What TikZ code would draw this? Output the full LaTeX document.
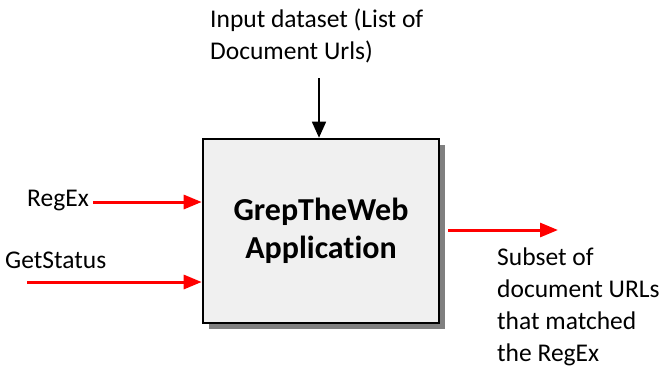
\documentclass[tikz,border=0pt]{standalone}
\usepackage{fontspec}
\setmainfont[Ligatures=NoCommon]{Carlito}
\usetikzlibrary{arrows.meta,shadows}
\begin{document}
\begin{tikzpicture}[x=1pt,y=-1pt,
  label/.style={inner sep=0pt,anchor=base west,font=\fontsize{25.5}{32}\selectfont},
  feed/.style={red,line width=3pt,-{Triangle[length=18pt,width=14pt]}},
  inflow/.style={black,line width=1.6pt,-{Triangle[length=16pt,width=14pt]}},
  appbox/.style={draw=black,line width=2.6pt,fill=black!6,minimum width=236pt,minimum height=184pt,
    inner sep=0pt,align=center,font=\fontsize{32}{38}\selectfont\bfseries,
    drop shadow={shadow xshift=6pt,shadow yshift=-6pt,fill=black!50,opacity=1}}]
  \useasboundingbox (0,0) rectangle (669,376);

  % main application block
  \node[appbox] (app) at (321,231) {GrepTheWeb\\Application};

  % input dataset from above
  \node[label] (inl1) at (210,27) {Input dataset (List of};
  \node[label] (inl2) at (210,59) {Document Urls)};
  \coordinate (intop) at (319,78);
  \draw[inflow] (intop) -- (app.north -| intop);

  % parameters on the left
  \node[label] (regex) at (27,206) {RegEx};
  \coordinate (rx) at (93,202);
  \draw[feed] (rx) -- (app.west |- rx);

  \node[label] (getstatus) at (5,268) {GetStatus};
  \coordinate (gs) at (27,282);
  \draw[feed] (gs) -- (app.west |- gs);

  % output on the right
  \coordinate (outs) at (448,230);
  \coordinate (oute) at (558,230);
  \draw[feed] (outs) -- (oute);
  \node[label] (o1) at (497,265) {Subset of};
  \node[label] (o2) at (497,297) {document URLs};
  \node[label] (o3) at (497,329) {that matched};
  \node[label] (o4) at (497,361) {the RegEx};
\end{tikzpicture}
\end{document}
